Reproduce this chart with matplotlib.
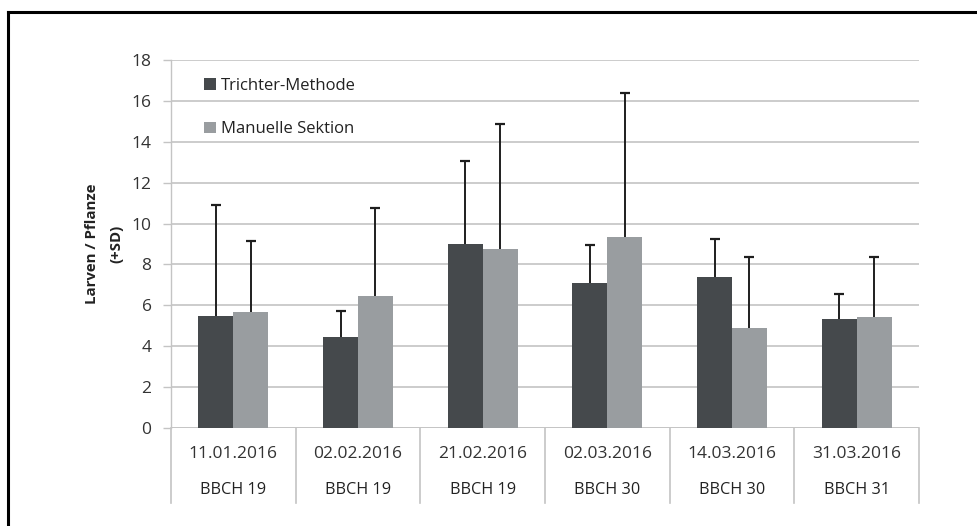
import matplotlib
matplotlib.use("Agg")
import matplotlib.pyplot as plt
from matplotlib.patches import Patch
from matplotlib.lines import Line2D
import numpy as np

dates = ["11.01.2016", "02.02.2016", "21.02.2016", "02.03.2016", "14.03.2016", "31.03.2016"]
stages = ["BBCH 19", "BBCH 19", "BBCH 19", "BBCH 30", "BBCH 30", "BBCH 31"]
trichter_mean = [5.5, 4.45, 9.0, 7.1, 7.4, 5.32]
trichter_sd = [5.4, 1.27, 4.08, 1.85, 1.85, 1.25]
manuell_mean = [5.66, 6.46, 8.74, 9.33, 4.88, 5.45]
manuell_sd = [3.49, 4.32, 6.12, 7.07, 3.5, 2.9]
series_names = ["Trichter-Methode", "Manuelle Sektion"]
yticks = [0, 2, 4, 6, 8, 10, 12, 14, 16, 18]

plt.rcParams['font.family'] = ['Open Sans', 'DejaVu Sans']

dark = "#45494c"
light = "#999da0"
grid_c = "#c4c4c4"

fig = plt.figure(figsize=(9.78, 5.26), dpi=100)
ax = fig.add_axes([171/978, 1-428/526, (919-171)/978, (428-60)/526])

x = np.arange(len(dates))
w = 0.28
ax.bar(x - w/2, trichter_mean, w, color=dark, zorder=3)
ax.bar(x + w/2, manuell_mean, w, color=light, zorder=3)
for xs, m, sd in [(x - w/2, trichter_mean, trichter_sd), (x + w/2, manuell_mean, manuell_sd)]:
    eb = ax.errorbar(xs, m, yerr=[np.zeros(len(x)), sd], fmt='none',
                     ecolor="#1e1e1e", elinewidth=1.4, capsize=3.5, capthick=1.6, zorder=4)
    caps = eb[1]
    if len(caps) > 0:
        caps[0].set_visible(False)

ax.set_xlim(-0.5, len(dates) - 0.5)
ax.set_ylim(0, 18)
ax.set_yticks(yticks)
ax.set_yticklabels([str(t) for t in yticks], fontsize=12.5, color="#333333")
ax.yaxis.grid(True, color=grid_c, linewidth=1.2, zorder=0)
ax.set_axisbelow(True)
ax.tick_params(axis='y', length=6, width=1, color=grid_c, pad=8)
ax.set_xticks([])
for s in ["top", "right", "bottom"]:
    ax.spines[s].set_visible(False)
ax.spines["left"].set_color(grid_c)
ax.spines["left"].set_linewidth(1)
ax.axhline(0, color=grid_c, linewidth=1.2, zorder=2)

# category separators and labels
trans = ax.get_xaxis_transform()
sep_depth = (503 - 428) / 368
for b in np.arange(-0.5, len(dates), 1.0):
    ax.plot([b, b], [0, -sep_depth], transform=trans, color=grid_c, linewidth=1.2, clip_on=False)
for i in range(len(dates)):
    ax.text(x[i], -(454 - 428) / 368, dates[i], transform=trans, ha='center', va='center',
            fontsize=12.5, color="#333333")
    ax.text(x[i], -(490 - 428) / 368, stages[i], transform=trans, ha='center', va='center',
            fontsize=11.7, color="#222222")

ax.set_ylabel("Larven / Pflanze\n(+SD)", fontsize=10.8, fontweight='bold', color="#222222",
              labelpad=6, linespacing=1.95)

handles = [Patch(facecolor=dark), Patch(facecolor=light)]
leg = ax.legend(handles, series_names, loc='upper left', bbox_to_anchor=(0.035, 0.97),
                frameon=False, fontsize=12, handlelength=0.7, handleheight=0.7,
                handletextpad=0.3, labelspacing=1.65, borderaxespad=0)
for t in leg.get_texts():
    t.set_color("#222222")

# outer frame (top and left edges visible)
fig.add_artist(Line2D([8/978, 1], [1-12/526, 1-12/526], color="black", linewidth=2.2,
                      transform=fig.transFigure))
fig.add_artist(Line2D([8/978, 8/978], [0, 1-12/526], color="black", linewidth=2.2,
                      transform=fig.transFigure))

fig.savefig("out.png", dpi=100, facecolor="white")
